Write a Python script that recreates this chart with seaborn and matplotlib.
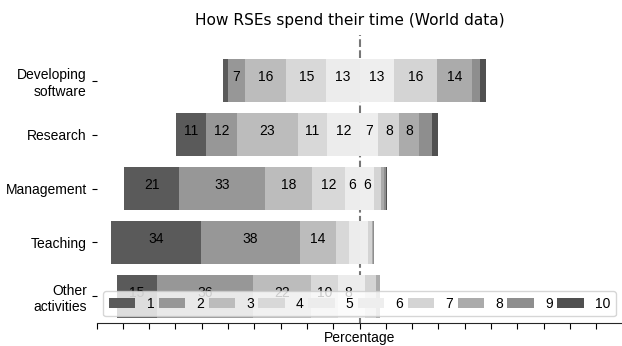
import matplotlib
matplotlib.use("Agg")
import matplotlib.pyplot as plt
from matplotlib.patches import Patch
import numpy as np
import pandas as pd
import seaborn as sns

categories = ["Developing\nsoftware", "Research", "Management", "Teaching", "Other\nactivities"]
levels = [str(i) for i in range(1, 11)]

# share of respondents (%) per level, one list per level, ordered as categories
level_1 = [1.9, 11.4, 20.8, 34.0, 15.2]
level_2 = [6.7, 11.8, 32.8, 37.6, 36.4]
level_3 = [15.6, 23.0, 17.7, 13.8, 22.1]
level_4 = [15.2, 11.3, 12.5, 5.0, 10.3]
level_5 = [12.6, 12.2, 5.6, 4.0, 8.2]
level_6 = [13.3, 7.2, 5.7, 3.2, 2.2]
level_7 = [16.0, 8.0, 2.5, 1.7, 4.2]
level_8 = [13.6, 7.6, 1.3, 0.4, 1.3]
level_9 = [2.8, 4.7, 0.6, 0.3, 0.0]
level_10 = [2.5, 2.5, 0.3, 0.1, 0.0]

colors = ["#5a5a5a", "#979797", "#bcbcbc", "#d8d8d8", "#ececec",
          "#eeeeee", "#d4d4d4", "#ababab", "#8e8e8e", "#505050"]

sns.set_style("ticks")
plt.rcParams["font.family"] = ["Liberation Sans", "DejaVu Sans"]
plt.rcParams["text.color"] = "black"
plt.rcParams["axes.labelcolor"] = "black"
plt.rcParams["xtick.color"] = "black"
plt.rcParams["ytick.color"] = "black"

values = pd.DataFrame(
    np.array([level_1, level_2, level_3, level_4, level_5,
              level_6, level_7, level_8, level_9, level_10]).T,
    index=categories, columns=levels)

# segment boundaries, centred between level 5 and level 6
left_part = values[levels[:5]]
starts = -left_part.sum(axis=1).values[:, None] + np.hstack(
    [np.zeros((len(categories), 1)), values.cumsum(axis=1).values[:, :-1]])
ends = starts + values.values

fig = plt.figure(figsize=(6.22, 3.46), dpi=100)
ax = fig.add_axes([96.5 / 622, 22.7 / 346, 526 / 622, (323.3 - 35) / 346])

ax.axvline(0, color="#777777", linestyle="--", linewidth=1.5, zorder=0)

# overlapping bars drawn from zero: outermost segment first on each side
for k in range(5):
    df = pd.DataFrame({"cat": categories, "x": starts[:, k]})
    sns.barplot(data=df, x="x", y="cat", orient="h", color=colors[k], width=0.8,
                saturation=1, linewidth=0, errorbar=None, ax=ax, zorder=2 + k)
for k in range(9, 4, -1):
    df = pd.DataFrame({"cat": categories, "x": ends[:, k]})
    sns.barplot(data=df, x="x", y="cat", orient="h", color=colors[k], width=0.8,
                saturation=1, linewidth=0, errorbar=None, ax=ax, zorder=2 + (14 - k))

for i in range(len(categories)):
    for k in range(10):
        v = values.iloc[i, k]
        if round(v) >= 6:
            ax.text((starts[i, k] + ends[i, k]) / 2, i - 0.07, f"{v:.0f}",
                    ha="center", va="center", fontsize=10, color="black", zorder=20)

ax.set_xlim(-100, 100)
ax.set_ylim(4.5, -0.85)
ax.set_xticks(np.arange(-100, 101, 10))
ax.set_xticklabels([])
ax.set_xlabel("Percentage", fontsize=10)
ax.xaxis.set_label_coords(0.5, -8 / 288.3)
ax.set_ylabel("")
ax.tick_params(axis="y", labelsize=10, length=3.5)
ax.tick_params(axis="x", length=4.5)
sns.despine(ax=ax, left=True)
ax.set_title("How RSEs spend their time (World data)", fontsize=11.1,
             family="DejaVu Sans", x=(350 - 96.5) / 526, pad=7)

handles = [Patch(facecolor=c, edgecolor="none") for c in colors]
leg = ax.legend(handles, levels, ncol=10, mode="expand", loc="lower left",
                fontsize=10, handlelength=1.9, framealpha=0.8)
leg.set_zorder(30)

fig.savefig("out.png", dpi=100)
